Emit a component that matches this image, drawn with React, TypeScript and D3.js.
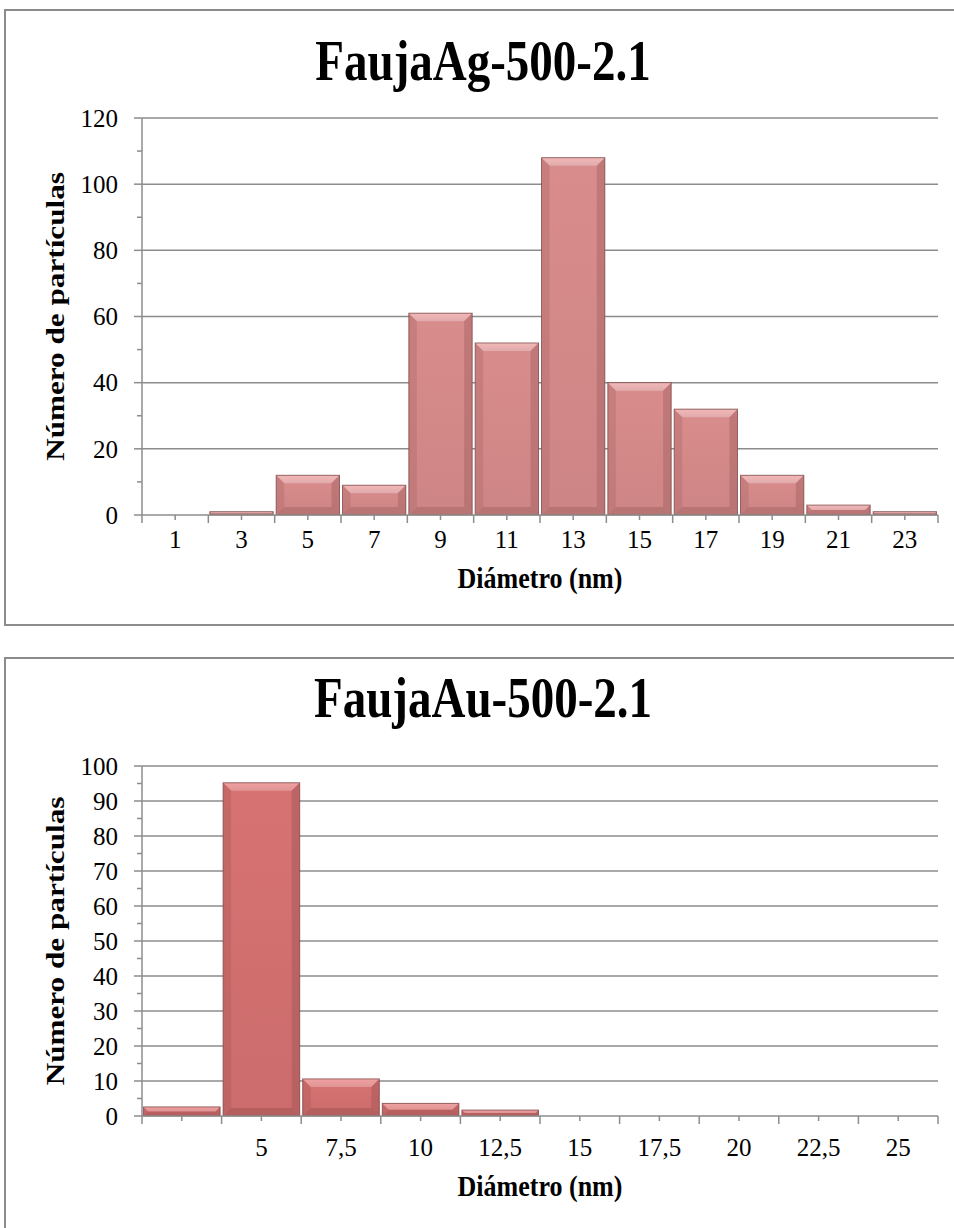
import React from 'react';
import * as d3 from 'd3';

const agCategories = ['1', '3', '5', '7', '9', '11', '13', '15', '17', '19', '21', '23'];
const agValues = [0, 1, 12, 9, 61, 52, 108, 40, 32, 12, 3, 1];
const agYTicks = [0, 20, 40, 60, 80, 100, 120];
const agYMinor = [10, 30, 50, 70, 90, 110];

const auCategories = ['', '5', '7,5', '10', '12,5', '15', '17,5', '20', '22,5', '25'];
const auValues = [2.6, 95.2, 10.6, 3.6, 1.7, 0, 0, 0, 0, 0];
const auYTicks = [0, 10, 20, 30, 40, 50, 60, 70, 80, 90, 100];
const auYMinor = [5, 15, 25, 35, 45, 55, 65, 75, 85, 95];

const FONT = '"Liberation Serif", "Times New Roman", "DejaVu Serif", serif';
const GRID = '#8c8c8c';

type ChartProps = {
  id: string;
  title: string;
  categories: string[];
  values: number[];
  yTicks: number[];
  yMinor: number[];
  yMax: number;
  frameY: number;
  frameH: number;
  plotTop: number;
  plotBottom: number;
  titleY: number;
  xLabelY: number;
  xTitleY: number;
  base: string;
  light: string;
  dark: string;
  side: string;
};

function Bar({ x0, x1, y0, y1, p }: { x0: number; x1: number; y0: number; y1: number; p: ChartProps }) {
  const w = x1 - x0;
  const h = y1 - y0;
  if (h <= 0) return null;
  const b = Math.min(8, h / 2, w / 2);
  return (
    <g>
      <rect x={x0} y={y0} width={w} height={h} fill={`url(#face-${p.id})`} />
      <polygon points={`${x0},${y0} ${x1},${y0} ${x1 - b},${y0 + b} ${x0 + b},${y0 + b}`} fill={`url(#top-${p.id})`} />
      <polygon points={`${x0},${y0} ${x0 + b},${y0 + b} ${x0 + b},${y1 - b} ${x0},${y1}`} fill={p.side} opacity={0.35} />
      <polygon points={`${x1},${y0} ${x1 - b},${y0 + b} ${x1 - b},${y1 - b} ${x1},${y1}`} fill={p.side} opacity={0.5} />
      <polygon points={`${x0},${y1} ${x0 + b},${y1 - b} ${x1 - b},${y1 - b} ${x1},${y1}`} fill={p.dark} opacity={0.35} />
      <rect x={x0} y={y0} width={w} height={h} fill="none" stroke="#7a4848" strokeWidth={1} strokeOpacity={0.75} />
    </g>
  );
}

function Chart(p: ChartProps) {
  const left = 142;
  const right = 938;
  const x = d3.scaleBand<string>().domain(p.categories.map((_, i) => String(i))).range([left, right]).padding(0);
  const y = d3.scaleLinear().domain([0, p.yMax]).range([p.plotBottom, p.plotTop]);
  const bw = x.bandwidth();
  const midY = (p.plotTop + p.plotBottom) / 2;
  return (
    <g>
      <defs>
        <linearGradient id={`face-${p.id}`} x1="0" y1="0" x2="0" y2="1">
          <stop offset="0" stopColor={p.base} />
          <stop offset="1" stopColor={d3.color(p.base)!.darker(0.15).toString()} />
        </linearGradient>
        <linearGradient id={`top-${p.id}`} x1="0" y1="0" x2="0" y2="1">
          <stop offset="0" stopColor={p.light} />
          <stop offset="1" stopColor={d3.color(p.light)!.darker(0.2).toString()} />
        </linearGradient>
      </defs>
      <rect x={5} y={p.frameY} width={980} height={p.frameH} fill="#fff" stroke={GRID} strokeWidth={2} />
      <text
        transform={`translate(483,${p.titleY}) scale(1,1.22)`}
        textAnchor="middle"
        fontFamily={FONT}
        fontWeight="bold"
        fontSize={47}
        fill="#000"
      >
        {p.title}
      </text>
      {p.yTicks.map((t) => (
        <g key={`g${t}`}>
          {t > 0 && <line x1={left} x2={right} y1={y(t)} y2={y(t)} stroke={GRID} strokeWidth={1.5} />}
          <line x1={left - 8} x2={left} y1={y(t)} y2={y(t)} stroke={GRID} strokeWidth={1.5} />
          <text x={left - 24} y={y(t)} dy="0.35em" textAnchor="end" fontFamily={FONT} fontSize={25} fill="#000">
            {t}
          </text>
        </g>
      ))}
      {p.yMinor.map((t) => (
        <line key={`m${t}`} x1={left - 5} x2={left} y1={y(t)} y2={y(t)} stroke={GRID} strokeWidth={1.5} />
      ))}
      {p.values.map((v, i) => {
        const x0 = x(String(i))! + 1.5;
        const x1 = x(String(i))! + bw - 1.5;
        return <Bar key={`b${i}`} x0={x0} x1={x1} y0={y(v)} y1={y(0)} p={p} />;
      })}
      <line x1={left} x2={left} y1={p.plotTop} y2={p.plotBottom} stroke={GRID} strokeWidth={1.5} />
      <line x1={left} x2={right} y1={p.plotBottom} y2={p.plotBottom} stroke={GRID} strokeWidth={1.5} />
      {p.categories.map((c, i) => (
        <g key={`x${i}`}>
          <line x1={x(String(i))!} x2={x(String(i))!} y1={p.plotBottom} y2={p.plotBottom + 8} stroke={GRID} strokeWidth={1.5} />
          <line x1={x(String(i))! + bw / 2} x2={x(String(i))! + bw / 2} y1={p.plotBottom} y2={p.plotBottom + 5} stroke={GRID} strokeWidth={1.5} />
          <text x={x(String(i))! + bw / 2} y={p.xLabelY} textAnchor="middle" fontFamily={FONT} fontSize={25} fill="#000">
            {c}
          </text>
        </g>
      ))}
      <line x1={right} x2={right} y1={p.plotBottom} y2={p.plotBottom + 8} stroke={GRID} strokeWidth={1.5} />
      <text
        transform={`translate(${(left + right) / 2},${p.xTitleY}) scale(1,1.12)`}
        textAnchor="middle"
        fontFamily={FONT}
        fontWeight="bold"
        fontSize={26}
        fill="#000"
      >
        Diámetro (nm)
      </text>
      <text
        transform={`translate(64,${midY}) rotate(-90) scale(1.2,1)`}
        textAnchor="middle"
        fontFamily={FONT}
        fontWeight="bold"
        fontSize={26}
        fill="#000"
      >
        Número de partículas
      </text>
    </g>
  );
}

export default function App() {
  return (
    <svg width={954} height={1228} style={{ position: 'absolute', left: 0, top: 0, background: '#fff' }}>
      <rect x={0} y={0} width={954} height={1228} fill="#fff" />
      <Chart
        id="ag"
        title="FaujaAg-500-2.1"
        categories={agCategories}
        values={agValues}
        yTicks={agYTicks}
        yMinor={agYMinor}
        yMax={120}
        frameY={10}
        frameH={615}
        plotTop={118}
        plotBottom={515}
        titleY={80}
        xLabelY={548}
        xTitleY={588}
        base="#d98c8c"
        light="#f2b8b8"
        dark="#8f5252"
        side="#a86464"
      />
      <Chart
        id="au"
        title="FaujaAu-500-2.1"
        categories={auCategories}
        values={auValues}
        yTicks={auYTicks}
        yMinor={auYMinor}
        yMax={100}
        frameY={658}
        frameH={620}
        plotTop={766}
        plotBottom={1116}
        titleY={717}
        xLabelY={1156}
        xTitleY={1196}
        base="#d77272"
        light="#f0a0a0"
        dark="#8a4545"
        side="#a55555"
      />
    </svg>
  );
}
